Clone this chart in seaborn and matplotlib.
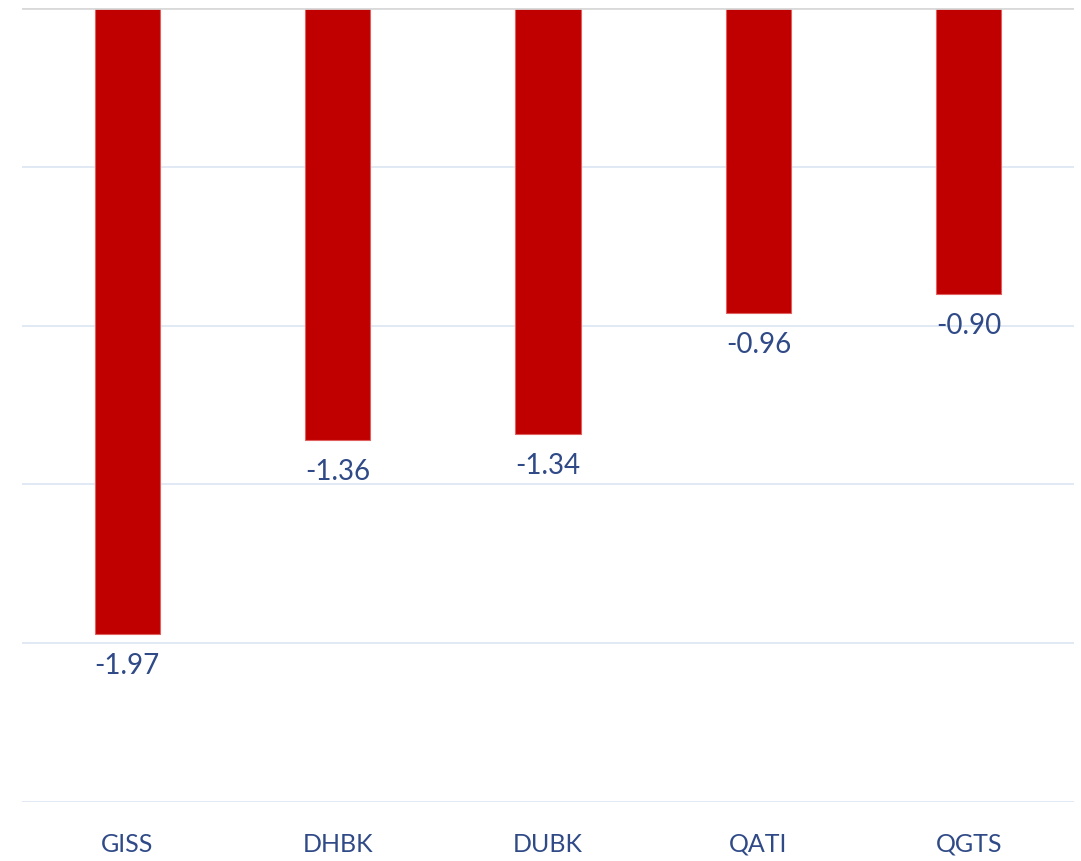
import matplotlib
matplotlib.use("Agg")
import matplotlib.pyplot as plt
import seaborn as sns
import pandas as pd

categories = ["GISS", "DHBK", "DUBK", "QATI", "QGTS"]
values = [-1.97, -1.36, -1.34, -0.96, -0.90]
y_ticks = [0, -0.5, -1.0, -1.5, -2.0, -2.5]

df = pd.DataFrame({"ticker": categories, "value": values})

sns.set_theme(style="white")
plt.rcParams['font.family'] = ['Lato', 'DejaVu Sans']

text_color = '#2F4A87'
bar_color = '#C00000'

fig = plt.figure(figsize=(10.81, 8.61), dpi=100)
ax = fig.add_axes([22 / 1081, 1 - 802 / 861, 1052 / 1081, 794 / 861])

sns.barplot(data=df, x="ticker", y="value", color=bar_color, width=0.31,
            edgecolor='#E06060', linewidth=0.8, saturation=1, ax=ax)

ax.set_ylim(-2.5, 0)
ax.set_xlim(-0.5, len(categories) - 0.5)
ax.set_yticks(y_ticks)
ax.set_yticklabels([])
ax.tick_params(axis='y', length=0)
ax.tick_params(axis='x', length=0, labelsize=18, labelcolor=text_color, pad=22)
ax.set_xlabel('')
ax.set_ylabel('')
ax.grid(axis='y', color='#DCE6F2', linewidth=1.2)
ax.set_axisbelow(True)
for s in ax.spines.values():
    s.set_visible(False)
ax.axhline(0, color='#D9D9D9', linewidth=2, zorder=3)

for i, v in enumerate(values):
    ax.annotate(f"{v:.2f}", (i, v), xytext=(0, -14), textcoords='offset points',
                ha='center', va='top', fontsize=20, color=text_color)

fig.savefig("out.png", dpi=100)
